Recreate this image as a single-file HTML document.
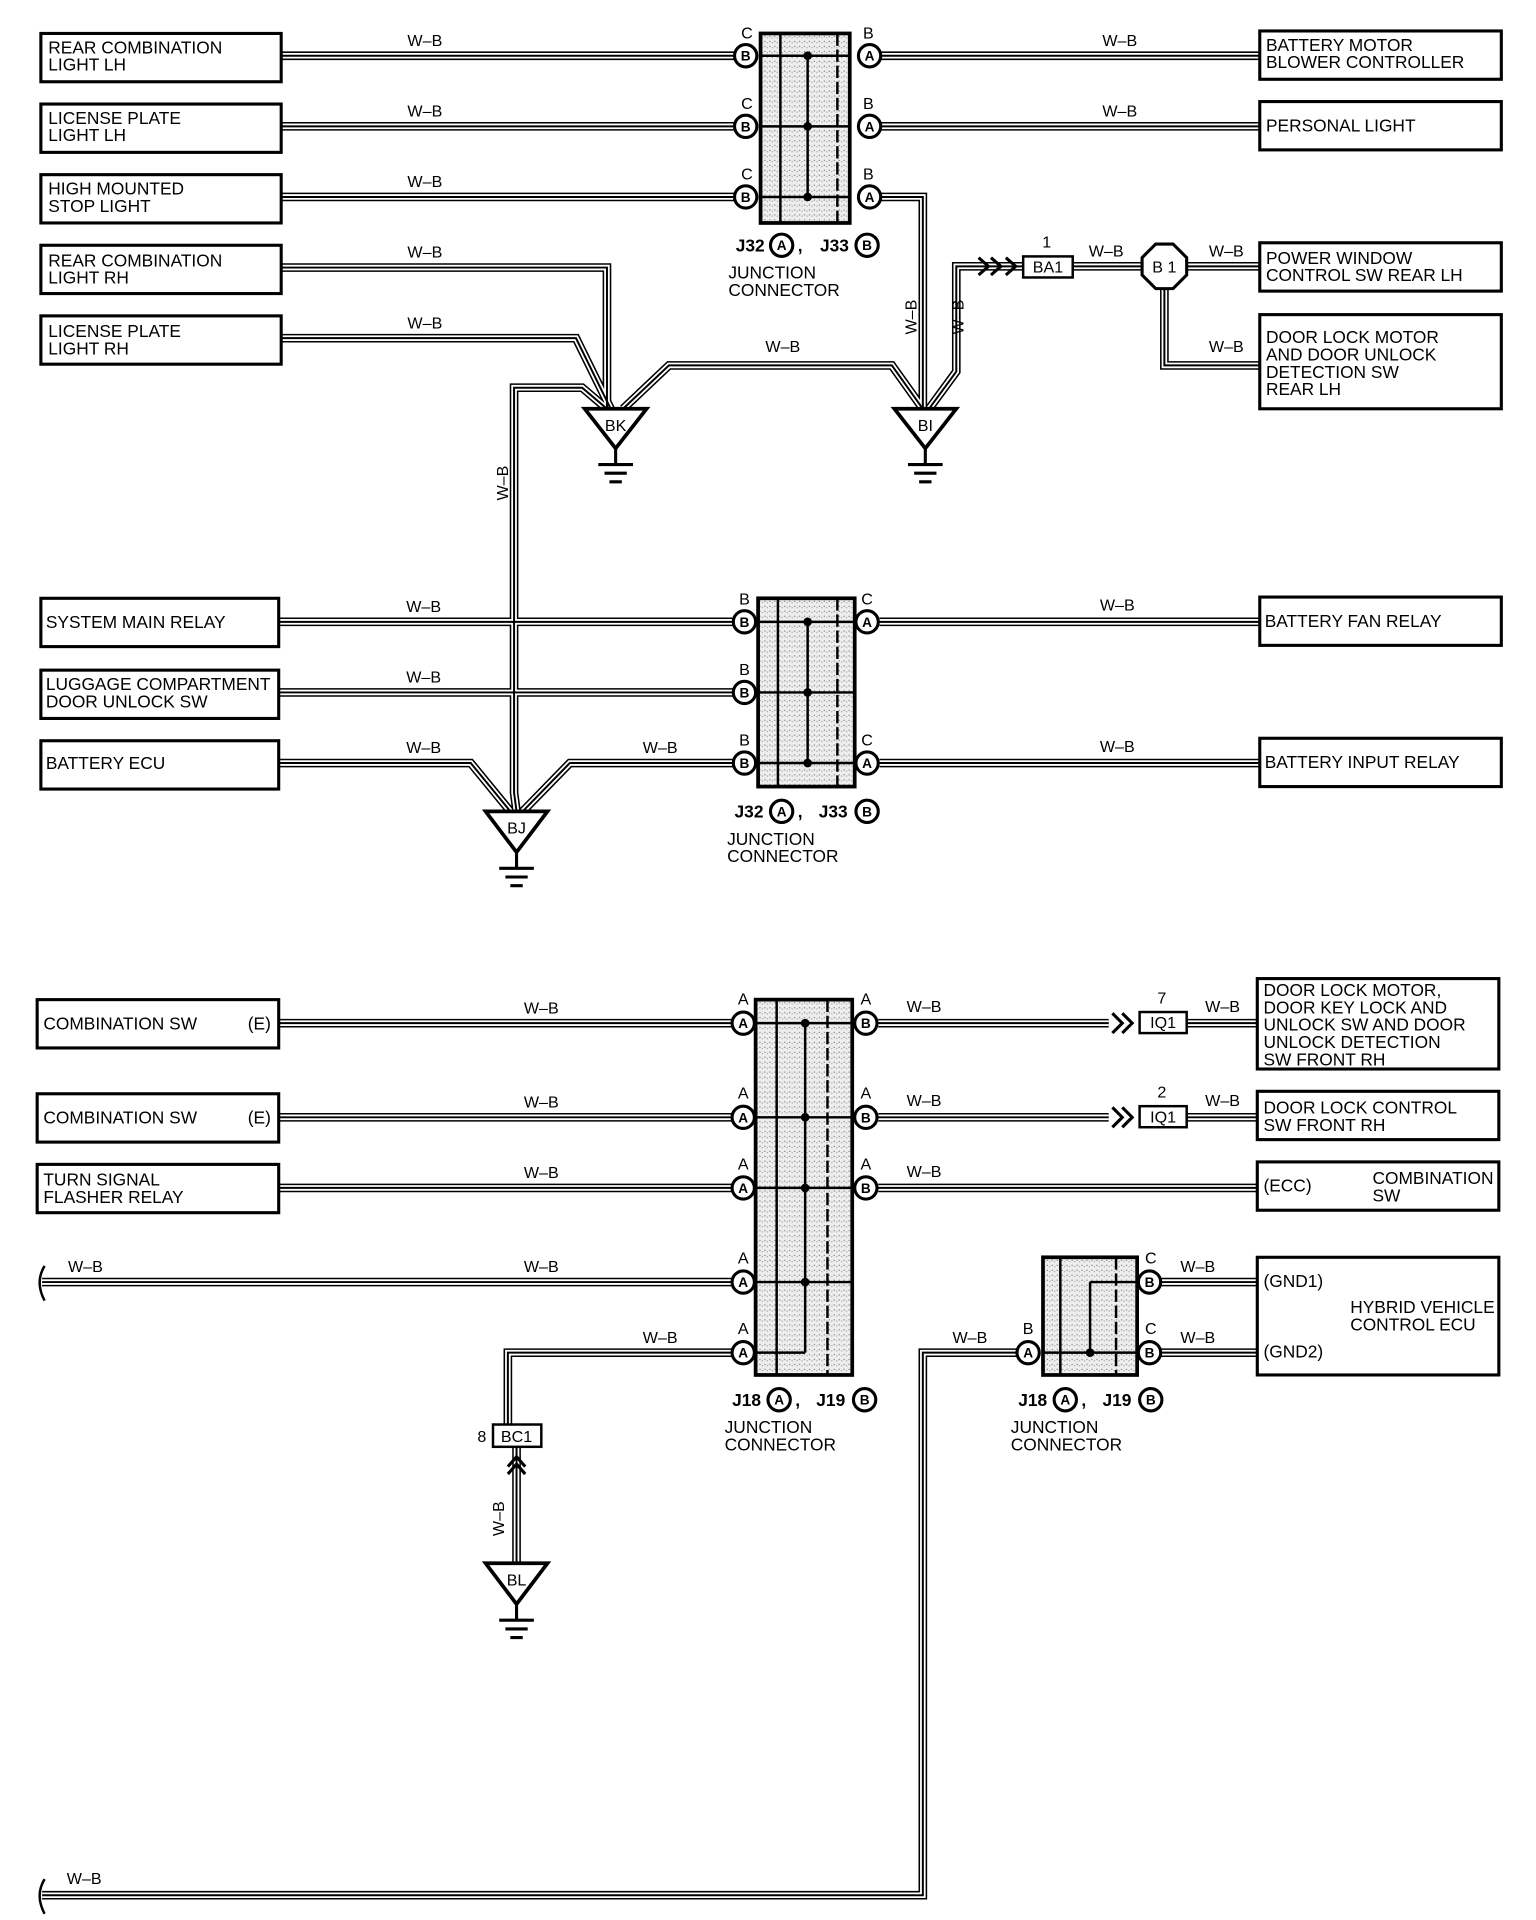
<!DOCTYPE html>
<html><head><meta charset="utf-8"><style>
html,body{margin:0;padding:0;background:#fff;}
svg{display:block;}
text{font-family:"Liberation Sans",Arial,sans-serif;fill:#000;}
.b{font-size:14px;}
.w{font-size:13px;}
.c{font-size:11px;font-weight:bold;text-anchor:middle;}
</style></head><body>
<svg width="1536" height="1920" viewBox="0 0 1240 1550" xmlns="http://www.w3.org/2000/svg" xmlns:xlink="http://www.w3.org/1999/xlink">
<defs>
<pattern id="st" width="4" height="4" patternUnits="userSpaceOnUse"><rect width="4" height="4" fill="#eee"/><rect x="1" y="1" width="1" height="1" fill="#888"/><rect x="3" y="2" width="1" height="1" fill="#aaa"/></pattern>
<g id="wires" fill="none" stroke-linejoin="miter">
<path d="M227,45H593M711,45H1017M227,102H593M711,102H1017M227,159H593M711,159H745V330"/>
<path d="M227,216H490V330M227,273H465L493,330M503,330L540,295H720L745,330M750,330L772,300V215H826"/>
<path d="M490,330L470,313H415V640L417,655"/>
<path d="M866,215H922M958,215H1017M940,233V295H1017"/>
<path d="M225,502H592M710,502H1017M225,559H592M225,616H380L412,655M592,616H460L422,655M710,616H1017"/>
<path d="M225,826H591M709,826H895M958,826H1017M225,902H591M709,902H895M958,902H1017M225,959H591M709,959H1017"/>
<path d="M34,1035H591M591,1092H410V1150M417,1168V1262M821,1092H745V1530H34M937,1035H1015M937,1092H1015"/>
</g>
</defs>
<rect width="1240" height="1550" fill="#fff"/>
<use xlink:href="#wires" stroke="#000" stroke-width="7"/>
<use xlink:href="#wires" stroke="#fff" stroke-width="4.5"/>
<use xlink:href="#wires" stroke="#000" stroke-width="1.6"/>
<!-- break marks -->
<path d="M36,1022 Q28,1035 36,1050 M36,1517 Q28,1530 36,1545" fill="none" stroke="#000" stroke-width="2"/>

<g fill="#fff" stroke="#000" stroke-width="2.5">
<rect x="33" y="27" width="194" height="39"/><rect x="33" y="84" width="194" height="39"/><rect x="33" y="141" width="194" height="39"/>
<rect x="33" y="198" width="194" height="39"/><rect x="33" y="255" width="194" height="39"/>
<rect x="1017" y="25" width="195" height="39"/><rect x="1017" y="82" width="195" height="39"/>
<rect x="1017" y="196" width="195" height="39"/><rect x="1017" y="254" width="195" height="76"/>
<rect x="33" y="483" width="192" height="39"/><rect x="33" y="541" width="192" height="39"/><rect x="33" y="598" width="192" height="39"/>
<rect x="1017" y="482" width="195" height="39"/><rect x="1017" y="596" width="195" height="39"/>
<rect x="30" y="807" width="195" height="39"/><rect x="30" y="883" width="195" height="39"/><rect x="30" y="940" width="195" height="39"/>
<rect x="1015" y="790" width="195" height="73"/><rect x="1015" y="881" width="195" height="39"/><rect x="1015" y="938" width="195" height="39"/>
<rect x="1015" y="1015" width="195" height="95"/>
</g>
<g class="b">
<text x="39" y="43">REAR COMBINATION</text><text x="39" y="57">LIGHT LH</text>
<text x="39" y="100">LICENSE PLATE</text><text x="39" y="114">LIGHT LH</text>
<text x="39" y="157">HIGH MOUNTED</text><text x="39" y="171">STOP LIGHT</text>
<text x="39" y="215">REAR COMBINATION</text><text x="39" y="229">LIGHT RH</text>
<text x="39" y="272">LICENSE PLATE</text><text x="39" y="286">LIGHT RH</text>
<text x="1022" y="41">BATTERY MOTOR</text><text x="1022" y="55">BLOWER CONTROLLER</text>
<text x="1022" y="106">PERSONAL LIGHT</text>
<text x="1022" y="213">POWER WINDOW</text><text x="1022" y="227">CONTROL SW REAR LH</text>
<text x="1022" y="277">DOOR LOCK MOTOR</text><text x="1022" y="291">AND DOOR UNLOCK</text><text x="1022" y="305">DETECTION SW</text><text x="1022" y="319">REAR LH</text>
<text x="37" y="507">SYSTEM MAIN RELAY</text>
<text x="37" y="557">LUGGAGE COMPARTMENT</text><text x="37" y="571">DOOR UNLOCK SW</text>
<text x="37" y="621">BATTERY ECU</text>
<text x="1021" y="506">BATTERY FAN RELAY</text>
<text x="1021" y="620">BATTERY INPUT RELAY</text>
<text x="35" y="831">COMBINATION SW</text><text x="200" y="831">(E)</text>
<text x="35" y="907">COMBINATION SW</text><text x="200" y="907">(E)</text>
<text x="35" y="957">TURN SIGNAL</text><text x="35" y="971">FLASHER RELAY</text>
<text x="1020" y="804">DOOR LOCK MOTOR,</text><text x="1020" y="818">DOOR KEY LOCK AND</text><text x="1020" y="832">UNLOCK SW AND DOOR</text><text x="1020" y="846">UNLOCK DETECTION</text><text x="1020" y="860">SW FRONT RH</text>
<text x="1020" y="899">DOOR LOCK CONTROL</text><text x="1020" y="913">SW FRONT RH</text>
<text x="1020" y="962">(ECC)</text><text x="1108" y="956">COMBINATION</text><text x="1108" y="970">SW</text>
<text x="1020" y="1039">(GND1)</text><text x="1020" y="1096">(GND2)</text>
<text x="1090" y="1060">HYBRID VEHICLE</text><text x="1090" y="1074">CONTROL ECU</text>
</g>

<!-- junction boxes -->
<g stroke="#000" fill="none">
<rect x="614" y="27" width="72" height="153" fill="url(#st)" stroke-width="3"/>
<path d="M614,45H686M614,102H686M614,159H686M630,27V180M652,45V159" stroke-width="2"/>
<path d="M676,27V180" stroke-width="2" stroke-dasharray="10,3"/>
<rect x="612" y="483" width="78" height="152" fill="url(#st)" stroke-width="3"/>
<path d="M612,502H690M612,559H690M612,616H690M628,483V635M652,502V616" stroke-width="2"/>
<path d="M676,483V635" stroke-width="2" stroke-dasharray="10,3"/>
<rect x="610" y="807" width="78" height="303" fill="url(#st)" stroke-width="3"/>
<path d="M610,826H688M610,902H688M610,959H688M610,1035H688M610,1092H650M627,807V1110M650,826V1092" stroke-width="2"/>
<path d="M668,807V1110" stroke-width="2" stroke-dasharray="10,3"/>
<rect x="842" y="1015" width="76" height="95" fill="url(#st)" stroke-width="3"/>
<path d="M880,1035H918M880,1035V1092M842,1092H918M856,1015V1110" stroke-width="2"/>
<path d="M901,1015V1110" stroke-width="2" stroke-dasharray="10,3"/>
</g>
<g fill="#000">
<circle cx="652" cy="45" r="3.5"/><circle cx="652" cy="102" r="3.5"/><circle cx="652" cy="159" r="3.5"/>
<circle cx="652" cy="502" r="3.5"/><circle cx="652" cy="559" r="3.5"/><circle cx="652" cy="616" r="3.5"/>
<circle cx="650" cy="826" r="3.5"/><circle cx="650" cy="902" r="3.5"/><circle cx="650" cy="959" r="3.5"/><circle cx="650" cy="1035" r="3.5"/>
<circle cx="880" cy="1092" r="3.5"/>
</g>
<!-- pin circles -->
<g fill="#fff" stroke="#000" stroke-width="2.5">
<circle cx="602" cy="45" r="9"/><circle cx="602" cy="102" r="9"/><circle cx="602" cy="159" r="9"/>
<circle cx="702" cy="45" r="9"/><circle cx="702" cy="102" r="9"/><circle cx="702" cy="159" r="9"/>
<circle cx="601" cy="502" r="9"/><circle cx="601" cy="559" r="9"/><circle cx="601" cy="616" r="9"/>
<circle cx="700" cy="502" r="9"/><circle cx="700" cy="616" r="9"/>
<circle cx="600" cy="826" r="9"/><circle cx="600" cy="902" r="9"/><circle cx="600" cy="959" r="9"/><circle cx="600" cy="1035" r="9"/><circle cx="600" cy="1092" r="9"/>
<circle cx="699" cy="826" r="9"/><circle cx="699" cy="902" r="9"/><circle cx="699" cy="959" r="9"/>
<circle cx="928" cy="1035" r="9"/><circle cx="928" cy="1092" r="9"/><circle cx="830" cy="1092" r="9"/>
<circle cx="631" cy="198" r="9"/><circle cx="700" cy="198" r="9"/>
<circle cx="631" cy="655" r="9"/><circle cx="700" cy="655" r="9"/>
<circle cx="629" cy="1130" r="9"/><circle cx="698" cy="1130" r="9"/>
<circle cx="860" cy="1130" r="9"/><circle cx="929" cy="1130" r="9"/>
</g>
<g class="c">
<text x="602" y="49">B</text><text x="602" y="106">B</text><text x="602" y="163">B</text>
<text x="702" y="49">A</text><text x="702" y="106">A</text><text x="702" y="163">A</text>
<text x="601" y="506">B</text><text x="601" y="563">B</text><text x="601" y="620">B</text>
<text x="700" y="506">A</text><text x="700" y="620">A</text>
<text x="600" y="830">A</text><text x="600" y="906">A</text><text x="600" y="963">A</text><text x="600" y="1039">A</text><text x="600" y="1096">A</text>
<text x="699" y="830">B</text><text x="699" y="906">B</text><text x="699" y="963">B</text>
<text x="928" y="1039">B</text><text x="928" y="1096">B</text><text x="830" y="1096">A</text>
<text x="631" y="202">A</text><text x="700" y="202">B</text>
<text x="631" y="659">A</text><text x="700" y="659">B</text>
<text x="629" y="1134">A</text><text x="698" y="1134">B</text>
<text x="860" y="1134">A</text><text x="929" y="1134">B</text>
</g>
<g class="w" text-anchor="middle">
<text x="603" y="31">C</text><text x="603" y="88">C</text><text x="603" y="145">C</text>
<text x="701" y="31">B</text><text x="701" y="88">B</text><text x="701" y="145">B</text>
<text x="601" y="488">B</text><text x="601" y="545">B</text><text x="601" y="602">B</text>
<text x="700" y="488">C</text><text x="700" y="602">C</text>
<text x="600" y="811">A</text><text x="600" y="887">A</text><text x="600" y="944">A</text><text x="600" y="1020">A</text><text x="600" y="1077">A</text>
<text x="699" y="811">A</text><text x="699" y="887">A</text><text x="699" y="944">A</text>
<text x="929" y="1020">C</text><text x="929" y="1077">C</text><text x="830" y="1077">B</text>
</g>
<g class="b" font-weight="bold" font-size="13">
<text x="594" y="203">J32</text><text x="644" y="203">,</text><text x="662" y="203">J33</text>
<text x="593" y="660">J32</text><text x="644" y="660">,</text><text x="661" y="660">J33</text>
<text x="591" y="1135">J18</text><text x="642" y="1135">,</text><text x="659" y="1135">J19</text>
<text x="822" y="1135">J18</text><text x="873" y="1135">,</text><text x="890" y="1135">J19</text>
</g>
<g class="b">
<text x="588" y="225">JUNCTION</text><text x="588" y="239">CONNECTOR</text>
<text x="587" y="682">JUNCTION</text><text x="587" y="696">CONNECTOR</text>
<text x="585" y="1157">JUNCTION</text><text x="585" y="1171">CONNECTOR</text>
<text x="816" y="1157">JUNCTION</text><text x="816" y="1171">CONNECTOR</text>
</g>
<!-- W-B labels -->
<g class="w" text-anchor="middle">
<text x="343" y="37">W–B</text><text x="904" y="37">W–B</text>
<text x="343" y="94">W–B</text><text x="904" y="94">W–B</text>
<text x="343" y="151">W–B</text>
<text x="343" y="208">W–B</text><text x="343" y="265">W–B</text>
<text x="632" y="284">W–B</text>
<text x="893" y="207">W–B</text><text x="990" y="207">W–B</text><text x="990" y="284">W–B</text>
<text x="342" y="494">W–B</text><text x="902" y="493">W–B</text>
<text x="342" y="551">W–B</text>
<text x="342" y="608">W–B</text><text x="533" y="608">W–B</text><text x="902" y="607">W–B</text>
<text x="437" y="818">W–B</text><text x="746" y="817">W–B</text><text x="987" y="817">W–B</text>
<text x="437" y="894">W–B</text><text x="746" y="893">W–B</text><text x="987" y="893">W–B</text>
<text x="437" y="951">W–B</text><text x="746" y="950">W–B</text>
<text x="69" y="1027">W–B</text><text x="437" y="1027">W–B</text>
<text x="533" y="1084">W–B</text><text x="783" y="1084">W–B</text>
<text x="967" y="1027">W–B</text><text x="967" y="1084">W–B</text>
<text x="68" y="1521">W–B</text>
<text transform="translate(740,256) rotate(-90)">W–B</text>
<text transform="translate(778,256) rotate(-90)">W–B</text>
<text transform="translate(410,390) rotate(-90)">W–B</text>
<text transform="translate(407,1226) rotate(-90)">W–B</text>
</g>
<!-- connectors BA1, IQ1, BC1, B1 -->
<g fill="#fff" stroke="#000" stroke-width="2">
<rect x="826" y="207" width="40" height="17"/>
<rect x="920" y="817" width="38" height="17"/>
<rect x="920" y="893" width="38" height="17"/>
<rect x="398" y="1150" width="39" height="18"/>
<polygon points="933,197 947,197 958,208 958,222 947,233 933,233 922,222 922,208" stroke-width="2.5"/>
</g>
<g fill="none" stroke="#000" stroke-width="2.5">
<path d="M790,208l8,7l-8,7M800,208l8,7l-8,7M812,208l8,7l-8,7"/>
<path d="M898,818l8,8l-8,8M906,818l8,8l-8,8"/>
<path d="M898,894l8,8l-8,8M906,894l8,8l-8,8"/>
<path d="M410,1184l7,-8l7,8M410,1190l7,-8l7,8"/>
</g>
<g class="w" text-anchor="middle">
<text x="846" y="220">BA1</text><text x="845" y="200">1</text>
<text x="939" y="830">IQ1</text><text x="938" y="810">7</text>
<text x="939" y="906">IQ1</text><text x="938" y="886">2</text>
<text x="417" y="1164">BC1</text><text x="389" y="1164">8</text>
<text x="940" y="220">B 1</text>
</g>
<!-- grounds -->
<g stroke="#000" fill="#fff" stroke-width="3">
<polygon points="472,330 522,330 497,362"/>
<polygon points="722,330 772,330 747,362"/>
<polygon points="392,655 442,655 417,688"/>
<polygon points="392,1262 442,1262 417,1295"/>
</g>
<g stroke="#000" stroke-width="2.5">
<path d="M497,362v12M483,375h28M488,382h18M492,389h10"/>
<path d="M747,362v12M733,375h28M738,382h18M742,389h10"/>
<path d="M417,688v12M403,701h28M408,708h18M412,715h10"/>
<path d="M417,1295v12M403,1308h28M408,1315h18M412,1322h10"/>
</g>
<g class="w" text-anchor="middle">
<text x="497" y="348">BK</text><text x="747" y="348">BI</text><text x="417" y="673">BJ</text><text x="417" y="1280">BL</text>
</g>
</svg>
</body></html>
